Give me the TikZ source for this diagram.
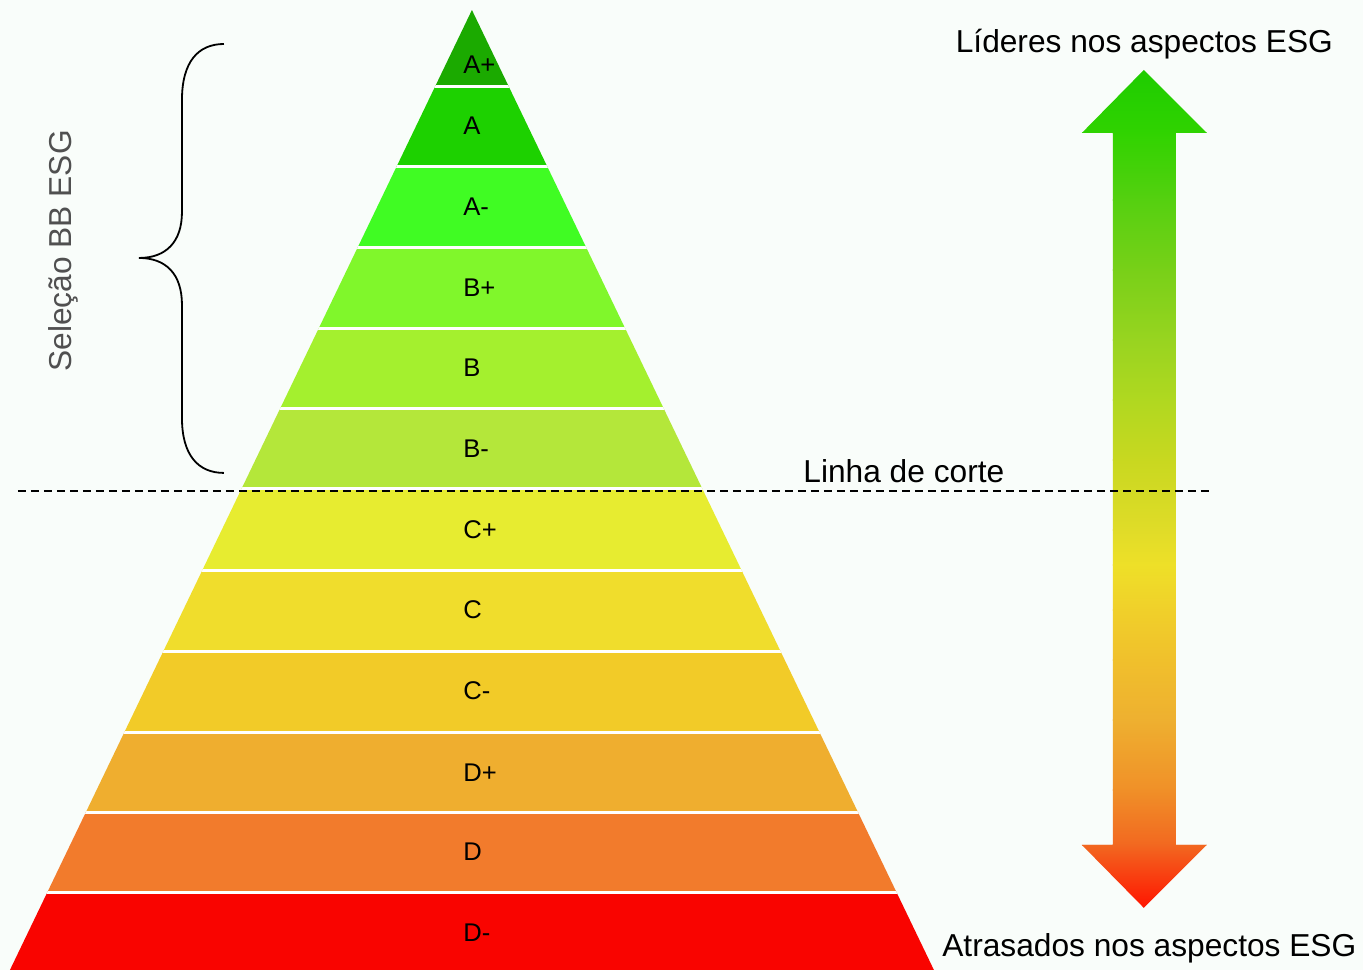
\documentclass[tikz,border=0pt]{standalone}
\usepackage{fontspec}
\setmainfont{Liberation Sans}
\definecolor{bgcol}{HTML}{F9FDFA}
\definecolor{selgray}{HTML}{505050}
% band colours, top to bottom
\definecolor{cAp}{HTML}{1BAA00}
\definecolor{cA}{HTML}{1DD100}
\definecolor{cAm}{HTML}{40FC23}
\definecolor{cBp}{HTML}{80F72B}
\definecolor{cB}{HTML}{A4F02E}
\definecolor{cBm}{HTML}{B4E73A}
\definecolor{cCp}{HTML}{E7EC30}
\definecolor{cC}{HTML}{F0DD2C}
\definecolor{cCm}{HTML}{F2CB28}
\definecolor{cDp}{HTML}{EFAE2F}
\definecolor{cD}{HTML}{F27B2C}
\definecolor{cDm}{HTML}{F90400}
% arrow gradient stops
\definecolor{g0}{HTML}{1ECC00}
\definecolor{g1}{HTML}{30D300}
\definecolor{g2}{HTML}{55D010}
\definecolor{g3}{HTML}{78D018}
\definecolor{g4}{HTML}{98D420}
\definecolor{g5}{HTML}{B0D820}
\definecolor{g6}{HTML}{C8D820}
\definecolor{g7}{HTML}{E0DC28}
\definecolor{g8}{HTML}{EEE028}
\definecolor{g9}{HTML}{F0D02A}
\definecolor{g10}{HTML}{F0C02C}
\definecolor{g11}{HTML}{EEB030}
\definecolor{g12}{HTML}{F09028}
\definecolor{g13}{HTML}{F26820}
\definecolor{g14}{HTML}{FF1400}
\tikzset{
  band label/.style={anchor=west,inner sep=0pt,font=\fontsize{12.8}{15}\selectfont},
  side text/.style={anchor=base,font=\fontsize{15.85}{19}\selectfont},
  cutline/.style={black,line width=0.75pt,dash pattern=on 4pt off 2.5pt},
  sepline/.style={white,line width=1.5pt},
  brace line/.style={black,line width=0.9pt},
}
\begin{document}
\begin{tikzpicture}[x=0.5pt,y=-0.5pt]
   \fill[bgcol] (0,0) rectangle (1363,970);
   % pyramid
   \begin{scope}
    \clip (472,10) -- (934,970) -- (10,970) -- cycle;
    \foreach \ya/\yb/\col in {10/87/cAp, 87/167/cA, 167/248/cAm, 248/328.5/cBp,
      328.5/409/cB, 409/489/cBm, 489/570.5/cCp, 570.5/651.5/cC, 651.5/733/cCm,
      733/812.5/cDp, 812.5/893/cD, 893/970/cDm}
     \fill[\col] (0,\ya) rectangle (1363,\yb);
    \foreach \ys in {87,167,248,328.5,409,489,570.5,651.5,733,812.5,893}
     \draw[sepline] (0,\ys) -- (1363,\ys);
   \end{scope}
   \foreach \lab/\ly [count=\i] in {A+/65, A/126, A-/207, B+/288, B/368, B-/449,
     C+/530, C/610, C-/691, D+/773, D/852, D-/933}
    \node[band label] (band\i) at (463,\ly) {\lab};
   % gradient arrow
   \begin{scope}
    \clip (1144,70) -- (1207,133) -- (1176,133) -- (1176,845) -- (1207,845)
      -- (1144,908) -- (1082,845) -- (1113,845) -- (1113,133) -- (1082,133) -- cycle;
    \foreach \ya/\ca/\yb/\cb in {70/g0/133/g1, 133/g1/200/g2, 200/g2/270/g3,
      270/g3/340/g4, 340/g4/400/g5, 400/g5/460/g6, 460/g6/530/g7, 530/g7/565/g8,
      565/g8/610/g9, 610/g9/660/g10, 660/g10/720/g11, 720/g11/790/g12,
      790/g12/845/g13, 845/g13/908/g14}
     \shade[top color=\ca,bottom color=\cb] (1075,\ya-0.6) rectangle (1215,\yb+0.6);
   \end{scope}
   % cut line
   \coordinate (cutL) at (18,491);
   \coordinate (cutR) at (1210,491);
   \draw[cutline] (cutL) -- (cutR);
   % brace
   \coordinate (braceTop) at (224,44);
   \coordinate (braceTip) at (139,258);
   \coordinate (braceBot) at (224,473);
   \draw[brace line] (braceTop) .. controls (198,44) and (182,62) .. (182,100)
     -- (182,212) .. controls (182,242) and (166,258) .. (braceTip)
     .. controls (166,258) and (182,274) .. (182,305)
     -- (182,418) .. controls (182,455) and (198,473) .. (braceBot);
   % texts
   \node[side text] (lead) at (1144.5,53) {Líderes nos aspectos ESG};
   \node[side text] (lag) at (1149.5,957) {Atrasados nos aspectos ESG};
   \node[side text] (cut) at (904,483) {Linha de corte};
   \node[side text,rotate=90,text=selgray] (sel) at (72,251) {Seleção BB ESG};
\end{tikzpicture}
\end{document}
